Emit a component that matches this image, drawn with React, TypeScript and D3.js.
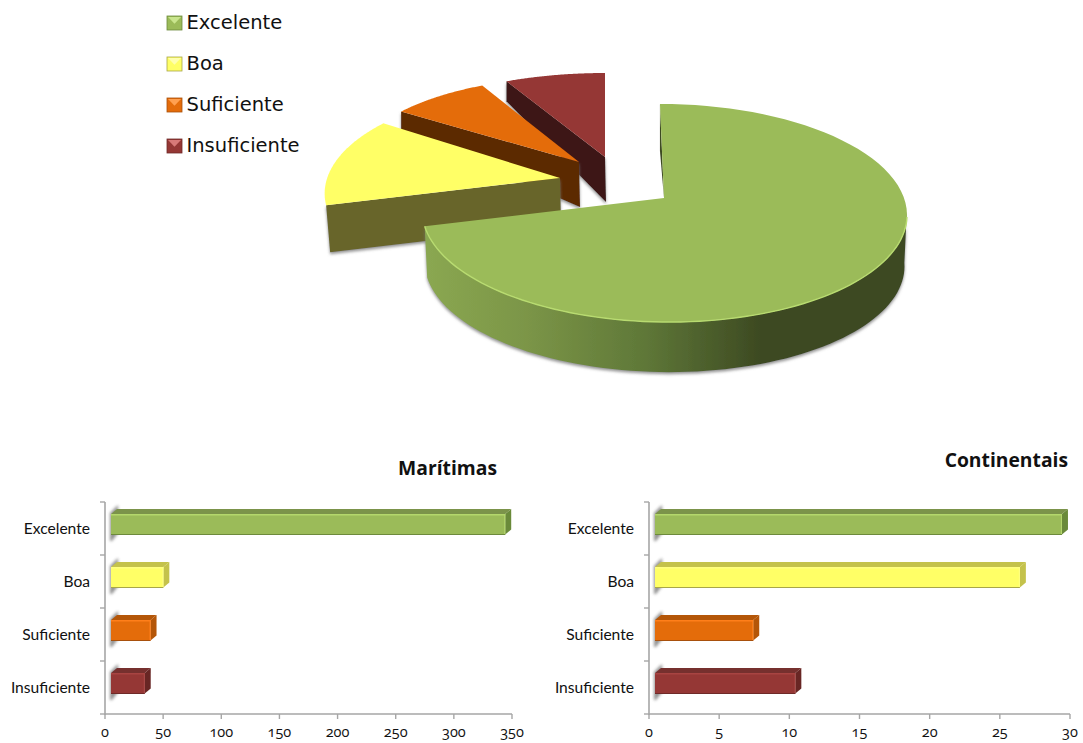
import React from "react";
import * as d3 from "d3";

const categories = ["Excelente", "Boa", "Suficiente", "Insuficiente"];
const maritimas = [339, 45, 34, 29];
const continentais = [29, 26, 7, 10];
const maritimasTicks = [0, 50, 100, 150, 200, 250, 300, 350];
const continentaisTicks = [0, 5, 10, 15, 20, 25, 30];
const totals = categories.map((_, i) => maritimas[i] + continentais[i]);

const FONT = "Lato, 'Open Sans', sans-serif";
const colors = {
  top: ["#9bbb59", "#ffff66", "#e46c0a", "#953735"],
  light: ["#b4d76c", "#ffff80", "#ff7f1a", "#a84442"],
  upper: ["#7b934a", "#c4c24b", "#b45608", "#76302e"],
  side: ["#6a8a3a", "#c4c24b", "#b45608", "#682624"],
  wall: ["#3d4a22", "#68652a", "#5c2a00", "#3d1614"],
  edge: ["#6d8a3c", "#a8a648", "#a8500c", "#6f2a28"],
};
const bevel = ["#c9e58d", "#ffffb0", "#ffa050", "#d87a78"];

// perspective layout of the exploded pie
const pieLayout = [
  { cx: 664, cy: 198, mx: 1, my: 1, shear: 0.043, backDepth: 47, apexDepth: 51.5 },
  { cx: 560, cy: 178, mx: 0.97, my: 0.97, shear: -0.03, backDepth: 47, apexDepth: 47 },
  { cx: 579, cy: 162, mx: 0.95, my: 0.89, shear: 0.043, backDepth: 18, apexDepth: 45 },
  { cx: 605, cy: 157, mx: 1.0, my: 0.88, shear: 0, backDepth: 20, apexDepth: 45 },
];
const RX = 240, RY = 107, K = 0.1376;

function project(a: number, L: any, r = 1): [number, number] {
  const X = Math.sin(a) * r * L.mx;
  const Y = Math.cos(a) * r * L.my;
  const s = 1 / (1 + K * Y);
  const dy = -RY * Y * s;
  return [L.cx + RX * X * s + L.shear * dy, L.cy + dy];
}

const line = d3.line();
const arcPts = (a0: number, a1: number, L: any, r = 1, dy = 0): [number, number][] =>
  d3.range(0, 81).map((i) => {
    const a = a0 + ((a1 - a0) * i) / 80;
    const p = project(a, L, r);
    return [p[0], p[1] + dy] as [number, number];
  });

function Pie3D() {
  const arcs = d3.pie<number>().sort(null)(totals);
  const order = [3, 2, 1, 0];
  return (
    <g>
      {order.map((i) => {
        const arc = arcs[i];
        const L = pieLayout[i];
        const top = arcPts(arc.startAngle, arc.endAngle, L);
        const apex: [number, number] = [L.cx, L.cy];
        const topPath = line([apex, ...top])! + "Z";
        if (i === 0) {
          const from = (97 * Math.PI) / 180;
          const wallTop = arcPts(from, arc.endAngle, L);
          const wallBottom = arcPts(from, arc.endAngle, L, 0.99, L.apexDepth).reverse();
          const tipTop = project(arc.startAngle, L);
          const sliver: [number, number][] = [tipTop, [tipTop[0], tipTop[1] + 47], apex];
          const frontArc = arcPts((100 * Math.PI) / 180, arc.endAngle, L);
          return (
            <g key={i}>
              <path d={line([...wallTop, ...wallBottom])! + "Z"} fill="url(#mainWall)" filter="url(#softShadow)" />
              <path d={line(sliver)! + "Z"} fill={colors.wall[0]} />
              <path d={topPath} fill={colors.top[0]} />
              <path d={line(frontArc)!} fill="none" stroke="#b8db70" strokeWidth={1.4} filter="url(#tiny)" />
            </g>
          );
        }
        const corner = project(arc.startAngle, L);
        const wall: [number, number][] = [
          corner,
          apex,
          [apex[0] + 1, apex[1] + L.apexDepth],
          [corner[0] + (i === 1 ? 4 : 0), corner[1] + L.backDepth],
        ];
        return (
          <g key={i}>
            <path d={line(wall)! + "Z"} fill={colors.wall[i]} filter="url(#softShadow)" />
            <path d={topPath} fill={colors.top[i]} />
          </g>
        );
      })}
    </g>
  );
}

function Legend() {
  return (
    <g>
      {categories.map((c, i) => {
        const y = 16 + i * 41;
        const x = 167;
        const w = 15;
        const h = 14;
        return (
          <g key={c}>
            <rect x={x} y={y} width={w} height={h} fill={colors.top[i]} stroke={colors.edge[i]} strokeWidth={0.8} />
            <path d={`M${x + 1},${y + 1}H${x + w - 1}L${x + w / 2},${y + h * 0.55}Z`} fill={bevel[i]} />
            <text x={186.5} y={y + 12.5} fontFamily="'DejaVu Sans', sans-serif" fontSize={19.5} fill="#111">
              {c}
            </text>
          </g>
        );
      })}
    </g>
  );
}

const DX = 6;
const DEPTH_Y = 5;

function BarChart({
  title, values, ticks, x0, x1, titleX, titleY,
}: { title: string; values: number[]; ticks: number[]; x0: number; x1: number; titleX: number; titleY: number }) {
  const yTop = 502, yBottom = 714;
  const x = d3.scaleLinear().domain([ticks[0], ticks[ticks.length - 1]]).range([x0, x1]);
  const y = d3.scaleBand<string>().domain(categories).range([yTop, yBottom]);
  const axisColor = "#a6a6a6";
  const startX = x(0) + DX;
  return (
    <g>
      <text x={titleX} y={titleY} textAnchor="end" fontFamily="'Open Sans', sans-serif" fontWeight={700} fontSize={19.3} fill="#111">{title}</text>
      {categories.map((c) => {
        const top = y(c)! + 12;
        return (
          <path
            key={c + "s"}
            d={line([[startX - 1, top - 1], [startX + 7, top - 9], [startX + 8, top + 18], [startX + 1, top + 27], [startX - 1, top + 27]])! + "Z"}
            fill="#808080"
            opacity={0.85}
            filter="url(#blur2)"
          />
        );
      })}
      <line x1={x0} x2={x0} y1={yTop} y2={yBottom + 1} stroke={axisColor} strokeWidth={1.6} />
      <line x1={x0} x2={x1} y1={yBottom} y2={yBottom} stroke={axisColor} strokeWidth={1.6} />
      {y.domain().map((c) => (
        <line key={c} x1={x0 - 5} x2={x0} y1={y(c)!} y2={y(c)!} stroke={axisColor} strokeWidth={1.4} />
      ))}
      <line x1={x0 - 5} x2={x0} y1={yBottom} y2={yBottom} stroke={axisColor} strokeWidth={1.4} />
      {ticks.map((t) => (
        <g key={t}>
          <line x1={x(t)} x2={x(t)} y1={yBottom} y2={yBottom + 5} stroke={axisColor} strokeWidth={1.4} />
          <text x={x(t)} y={737} textAnchor="middle" fontFamily="'Open Sans', sans-serif" fontSize={14.5} fill="#111" style={{ fontFeatureSettings: "'onum'" }}>{t}</text>
        </g>
      ))}
      {categories.map((c, i) => {
        const fy = y(c)! + 12;
        const h = 20.5;
        const fx = startX;
        const ex = x(values[i]) + DX;
        return (
          <g key={c}>
            <text x={x0 - 15} y={y(c)! + 32} textAnchor="end" fontFamily={FONT} fontSize={15.6} fill="#111">{c}</text>
            <path
              d={line([[fx, fy], [fx + DX, fy - DEPTH_Y], [ex + DX, fy - DEPTH_Y], [ex, fy]])! + "Z"}
              fill={colors.upper[i]}
            />
            <path
              d={line([[ex, fy], [ex + DX, fy - DEPTH_Y], [ex + DX, fy + h - DEPTH_Y], [ex, fy + h]])! + "Z"}
              fill={colors.side[i]}
            />
            <rect x={fx} y={fy} width={ex - fx} height={h} fill={colors.top[i]} />
            <line x1={fx} x2={ex} y1={fy + 0.8} y2={fy + 0.8} stroke={colors.light[i]} strokeWidth={1.6} />
            <line x1={ex - 0.5} x2={ex - 0.5} y1={fy} y2={fy + h} stroke={colors.light[i]} strokeWidth={1} />
            <line x1={fx} x2={ex} y1={fy + h} y2={fy + h} stroke={colors.edge[i]} strokeWidth={1.2} />
          </g>
        );
      })}
    </g>
  );
}

export default function App() {
  return (
    <svg width={1083} height={743} style={{ position: "absolute", left: 0, top: 0, background: "#fff" }}>
      <defs>
        <linearGradient id="mainWall" gradientUnits="userSpaceOnUse" x1={428} x2={760} y1={0} y2={0}>
          <stop offset="0" stopColor="#8aa751" />
          <stop offset="0.3" stopColor="#7b9547" />
          <stop offset="0.65" stopColor="#5f7838" />
          <stop offset="1" stopColor="#3d4a22" />
        </linearGradient>
        <filter id="softShadow" x="-10%" y="-10%" width="125%" height="125%">
          <feDropShadow dx={0} dy={2} stdDeviation={1.8} floodColor="#777" floodOpacity={0.8} />
        </filter>
        <filter id="tiny" x="-5%" y="-5%" width="110%" height="110%">
          <feGaussianBlur stdDeviation={0.5} />
        </filter>
        <filter id="blur2" x="-100%" y="-30%" width="300%" height="160%">
          <feGaussianBlur stdDeviation={1.6} />
        </filter>
      </defs>
      <Pie3D />
      <Legend />
      <BarChart title="Marítimas" values={maritimas} ticks={maritimasTicks} x0={105} x1={512} titleX={497} titleY={475} />
      <BarChart title="Continentais" values={continentais} ticks={continentaisTicks} x0={649} x1={1070} titleX={1068} titleY={467} />
    </svg>
  );
}
